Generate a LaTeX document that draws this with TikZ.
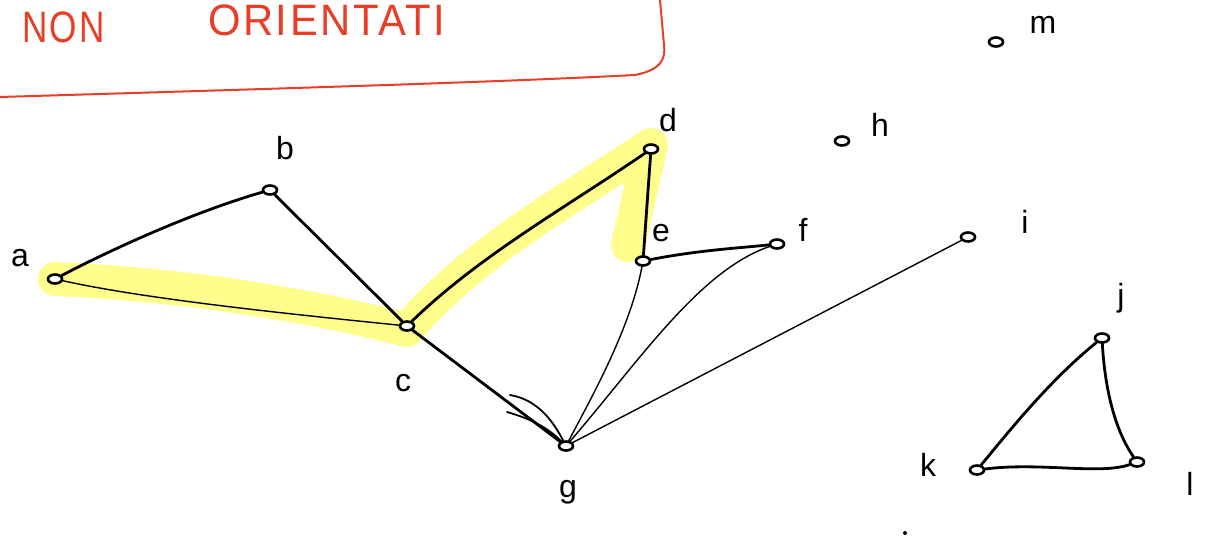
\documentclass[tikz,border=0pt]{standalone}
\usepackage{fontspec}
\setmainfont{Liberation Sans}
\usetikzlibrary{shapes.geometric}
\definecolor{hl}{RGB}{255,253,140}
\definecolor{redink}{RGB}{232,62,40}
\tikzset{
  vtx/.style={draw, fill=white, ellipse, line width=2.6pt, minimum width=14pt, minimum height=9pt, inner sep=0pt},
  lbl/.style={font=\fontsize{32}{32}\selectfont, inner sep=0pt},
  thk/.style={line width=2.8pt, line cap=round},
  thn/.style={line width=1.4pt, line cap=round},
  hilite/.style={draw=hl, line width=34pt, line cap=round, line join=round},
  title/.style={redink, inner sep=0pt, anchor=base west, font=\fontsize{44}{44}\selectfont\addfontfeatures{LetterSpace=6}}
}
\begin{document}
\begin{tikzpicture}[x=1pt,y=-1pt]
\useasboundingbox (0,0) rectangle (1217,535);
% highlight
\coordinate (ha) at (55,279);
\coordinate (hc) at (407,330);
\coordinate (hd) at (651,145);
\coordinate (he) at (628,245);
\draw[hilite] (ha) .. controls (200,285) and (330,310) .. (hc) .. controls (470,255) and (560,205) .. (hd) -- (he);
% red frame and title
\coordinate (r1) at (0,97);
\coordinate (r2) at (635,75);
\coordinate (r3) at (664,45);
\coordinate (r4) at (660,0);
\draw[redink, line width=2pt] (r1) .. controls (300,88) and (500,82) .. (r2) .. controls (660,70) and (666,60) .. (r3) -- (r4);
\node[title, xscale=0.8] (t1) at (22,42) {NON};
\node[title, xscale=0.95] (t2) at (208,36) {ORIENTATI};
% vertices
\node[vtx] (a) at (55,279) {};
\node[vtx] (b) at (270,190) {};
\node[vtx] (c) at (407,326) {};
\node[vtx] (d) at (651,149) {};
\node[vtx] (e) at (643,261) {};
\node[vtx] (f) at (777,244) {};
\node[vtx] (g) at (566,446) {};
\node[vtx] (h) at (842,141) {};
\node[vtx] (i) at (968,237) {};
\node[vtx] (j) at (1102,338) {};
\node[vtx] (k) at (977,470) {};
\node[vtx] (l) at (1137,462) {};
\node[vtx] (m) at (996,42) {};
% labels
\node[lbl] (la) at (20,258) {a};
\node[lbl] (lb) at (285,148) {b};
\node[lbl] (lc) at (403,383) {c};
\node[lbl] (ld) at (668,120) {d};
\node[lbl] (le) at (661,233) {e};
\node[lbl] (lf) at (803,230) {f};
\node[lbl] (lg) at (568,492) {g};
\node[lbl] (lh) at (880,125) {h};
\node[lbl] (li) at (1025,222) {i};
\node[lbl] (lj) at (1121,298) {j};
\node[lbl] (lk) at (928,465) {k};
\node[lbl] (ll) at (1190,484) {l};
\node[lbl] (lm) at (1043,25) {m};
% edges
\draw[thk] (a) .. controls (120,245) and (200,210) .. (b);
\draw[thn] (a) .. controls (150,300) and (300,315) .. (c);
\draw[thk] (b) -- (c);
\draw[thk] (c) .. controls (480,255) and (570,205) .. (d);
\draw[thk] (d) -- (e);
\draw[thk] (e) .. controls (700,250) and (740,248) .. (f);
\draw[thn] (e) .. controls (630,330) and (590,400) .. (g);
\draw[thn] (f) .. controls (700,270) and (640,360) .. (g);
\draw[thn] (i) -- (g);
\draw[thk] (c) -- (g);
\draw[thk] (j) .. controls (1050,380) and (1010,430) .. (k);
\draw[thk] (j) .. controls (1105,390) and (1115,430) .. (l);
\draw[thk] (k) .. controls (1040,462) and (1100,475) .. (l);
% scribble near g
\coordinate (s1) at (510,395);
\coordinate (s2) at (507,412);
\draw[thn, line width=1.8pt] (s1) .. controls (540,400) and (555,425) .. (g);
\draw[thn, line width=1.8pt] (s2) .. controls (535,420) and (550,430) .. (g);
% tiny dot
\fill (905,533) circle (2pt);
\end{tikzpicture}
\end{document}
